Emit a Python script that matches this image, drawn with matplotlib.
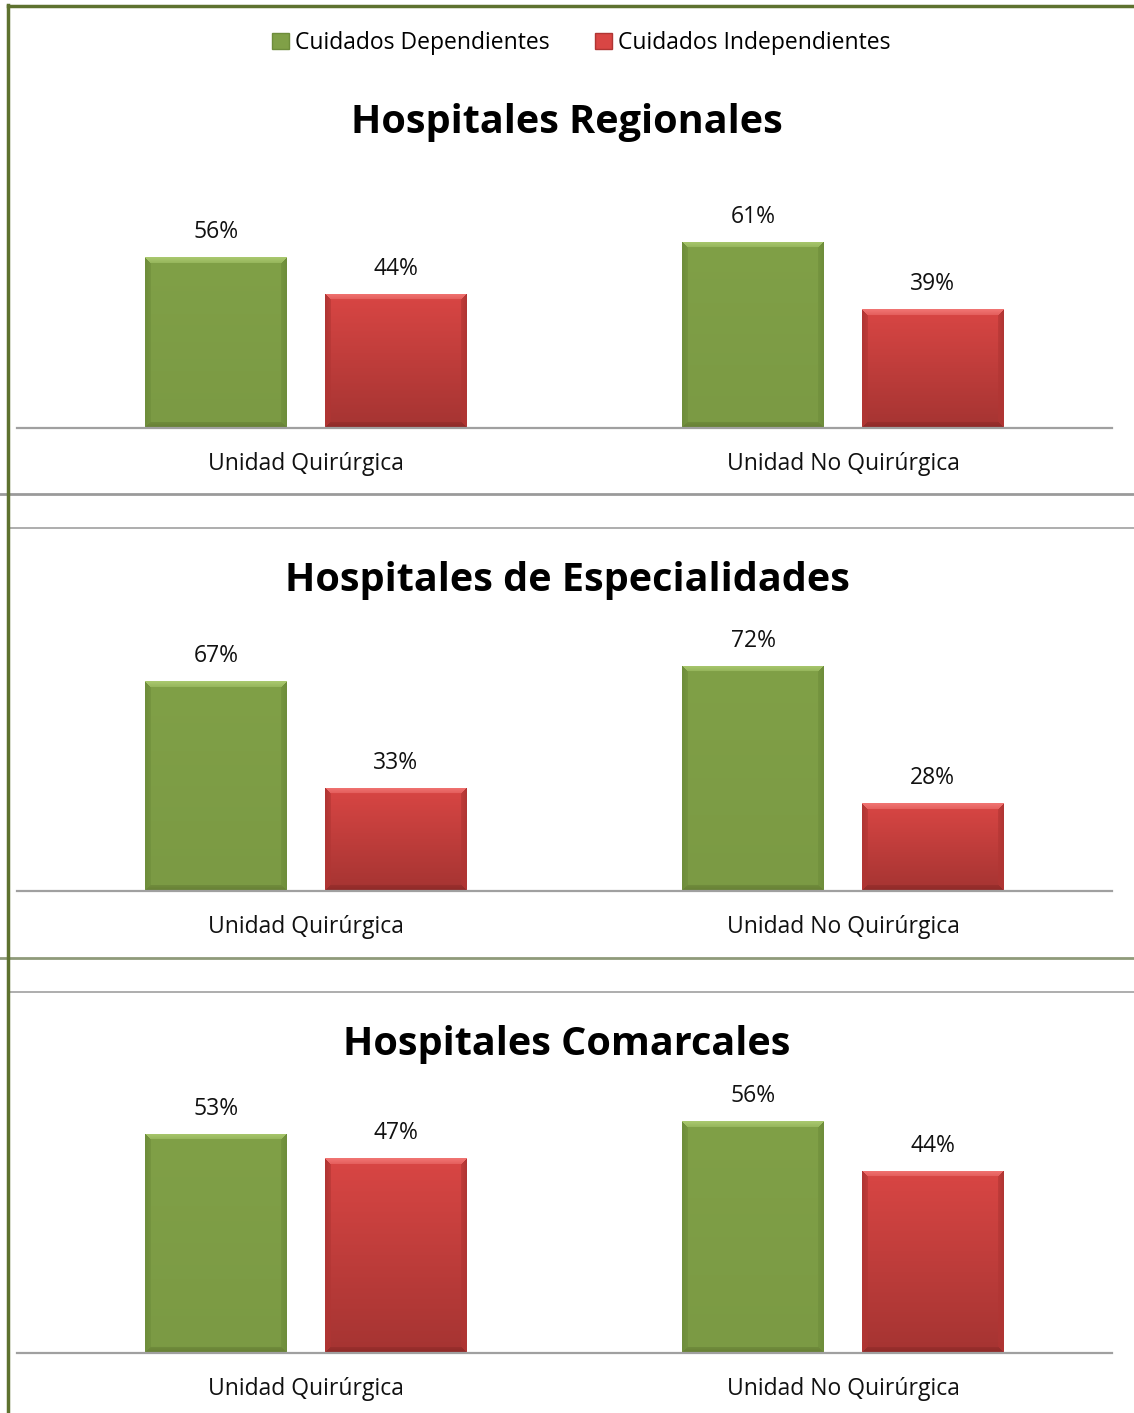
import numpy as np
import matplotlib
matplotlib.use("Agg")
import matplotlib.pyplot as plt
from matplotlib.patches import Patch
from matplotlib.lines import Line2D

# ---------------- data ----------------
panel_titles = ["Hospitales Regionales", "Hospitales de Especialidades", "Hospitales Comarcales"]
categories = ["Unidad Quirúrgica", "Unidad No Quirúrgica"]
series_names = ["Cuidados Dependientes", "Cuidados Independientes"]
dependientes = [[56, 61], [67, 72], [53, 56]]
independientes = [[44, 39], [33, 28], [47, 44]]

# ---------------- layout ----------------
W, H = 1134, 1413
fig = plt.figure(figsize=(W / 100, H / 100), dpi=100)
FONT = "Open Sans"

def fy(y):
    return 1 - y / H

baselines = [428, 891, 1353]
scales = [3.05, 3.13, 4.14]          # px per percent
ymax = [80, 80, 60]
title_y = [122, 580, 1045]

def c(h):
    return np.array([int(h[i:i + 2], 16) for i in (1, 3, 5)]) / 255

GREEN = dict(body=c("#80A047"), top=c("#A9C86E"), side=c("#6E8D3B"), bot=c("#667F35"),
             grad=c("#7B9A44"))
RED = dict(body=c("#D94644"), top=c("#F07472"), side=c("#B03533"), bot=c("#8E2A28"),
           grad=c("#A53432"))

def bevel_image(wpx, hpx, col, bw=6):
    wpx = max(int(round(wpx)), 2 * bw + 2)
    hpx = max(int(round(hpx)), 2 * bw + 2)
    yy, xx = np.mgrid[0:hpx, 0:wpx]
    t = yy / (hpx - 1)
    img = col["body"][None, None, :] * (1 - t[..., None]) + col["grad"][None, None, :] * t[..., None]
    dtop = yy
    dbot = hpx - 1 - yy
    dl = xx
    dr = wpx - 1 - xx
    dmin = np.minimum(np.minimum(dtop, dbot), np.minimum(dl, dr))
    mask = dmin < bw
    top_m = mask & (dtop == dmin)
    bot_m = mask & (dbot == dmin) & ~top_m
    side_m = mask & ~top_m & ~bot_m
    f = (dmin / bw)[..., None]
    base = img.copy()
    for m, cc in [(top_m, col["top"]), (bot_m, col["bot"]), (side_m, col["side"])]:
        blend = cc[None, None, :] * (1 - 0.5 * f) + base * (0.5 * f)
        img[m] = blend[m]
    return img

for p in range(3):
    base = baselines[p]
    sc = scales[p]
    top_px = base - ymax[p] * sc
    ax = fig.add_axes([17 / W, fy(base), 1095 / W, (base - top_px) / H])
    ax.set_ylim(0, ymax[p])
    ax.set_xlim(-0.538, 1.501)
    x = np.arange(len(categories))
    bw_ = 0.264
    off = 0.167
    b1 = ax.bar(x - off, dependientes[p], width=bw_, color="none", edgecolor="none", zorder=3)
    b2 = ax.bar(x + off, independientes[p], width=bw_, color="none", edgecolor="none", zorder=3)
    for bars, col, vals in [(b1, GREEN, dependientes[p]), (b2, RED, independientes[p])]:
        for rect, v in zip(bars, vals):
            x0, y0 = rect.get_x(), rect.get_y()
            w, h = rect.get_width(), rect.get_height()
            img = bevel_image(w * 537, h * sc, col)
            im = ax.imshow(img, extent=(x0, x0 + w, y0, y0 + h), aspect="auto",
                           zorder=3, interpolation="bilinear")
            im.set_clip_path(rect)
            ax.add_patch(rect)
            ax.text(x0 + w / 2, v + 13 / sc, f"{v}%", ha="center", va="bottom",
                    fontsize=16.5, family=FONT, color="#111111", clip_on=False)
    ax.set_xticks(x)
    ax.set_xticklabels(categories, fontsize=16.5, family=FONT, color="#111111")
    ax.tick_params(axis="x", length=0, pad=17)
    ax.set_yticks([])
    for s in ["top", "right", "left"]:
        ax.spines[s].set_visible(False)
    ax.spines["bottom"].set_color("#A0A0A0")
    ax.spines["bottom"].set_linewidth(1.6)
    ax.spines["bottom"].set_zorder(5)
    ax.patch.set_alpha(0)
    fig.text(0.5, fy(title_y[p]), panel_titles[p], ha="center", va="center",
             fontsize=28.5, fontweight="bold", family=FONT, color="#000000")

# separators and borders
fig.add_artist(Line2D([0, 1], [fy(494), fy(494)], color="#9A9A9A", lw=2))
fig.add_artist(Line2D([9 / W, 1], [fy(528), fy(528)], color="#A0A0A0", lw=1.2))
fig.add_artist(Line2D([0, 1], [fy(958), fy(958)], color="#8F9A7A", lw=2))
fig.add_artist(Line2D([9 / W, 1], [fy(992), fy(992)], color="#A0A0A0", lw=1.2))
fig.add_artist(Line2D([8 / W, 8 / W], [0, fy(5)], color="#5E722F", lw=2.5))
fig.add_artist(Line2D([8 / W, 1], [fy(6), fy(6)], color="#5E722F", lw=2.5))

# legend
handles = [Patch(facecolor=GREEN["body"], edgecolor=GREEN["side"], label=series_names[0]),
           Patch(facecolor=RED["body"], edgecolor=RED["side"], label=series_names[1])]
leg = fig.legend(handles=handles, loc="center", bbox_to_anchor=(581 / W, fy(43)), ncol=2,
                 frameon=False, prop={"family": FONT, "size": 16.5},
                 handlelength=0.75, handleheight=0.75, handletextpad=0.25, columnspacing=2.0)

fig.savefig("out.png", dpi=100, facecolor="white")
